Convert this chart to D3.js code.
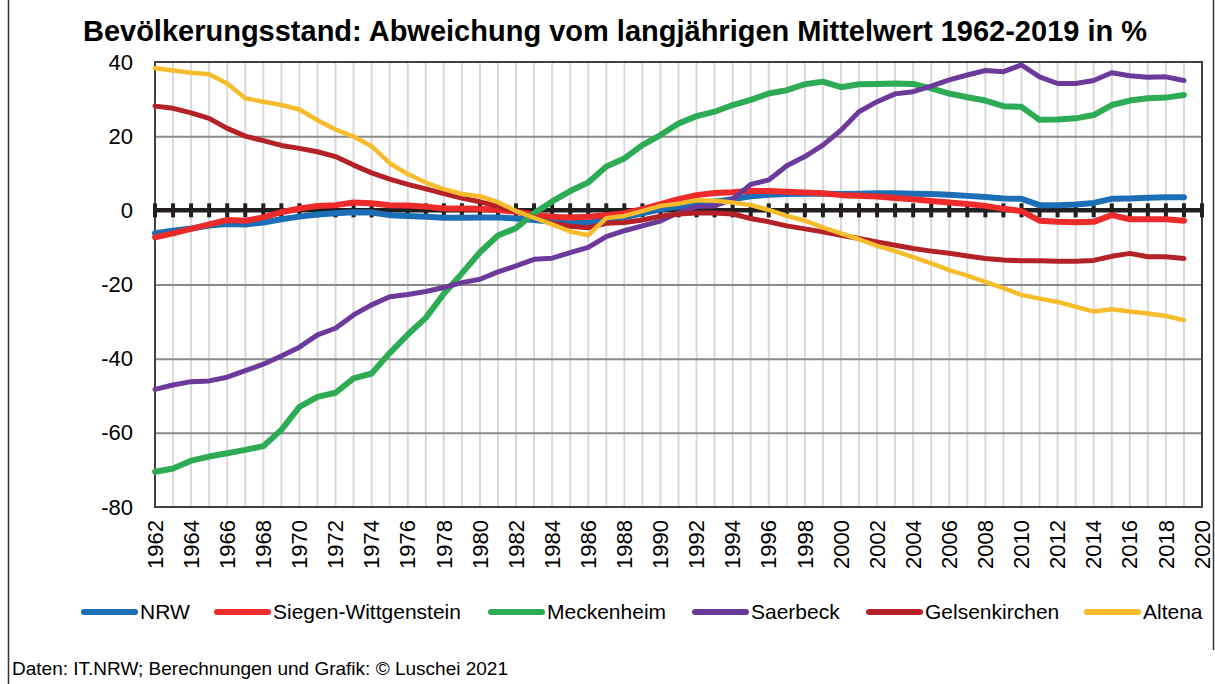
<!DOCTYPE html>
<html>
<head>
<meta charset="utf-8">
<script src="https://cdn.jsdelivr.net/npm/d3@7"></script>
<style>
  body { margin: 0; background: #fff; }
  text { font-family: "Liberation Sans", Arial, sans-serif; fill: #000; }
</style>
</head>
<body>
<div id="chart"></div>
<script>
// Bevölkerungsstand – Abweichung vom langjährigen Mittelwert

const years = d3.range(1962, 2020);
const yTicks = [-80, -60, -40, -20, 0, 20, 40];
const xLabelYears = d3.range(1962, 2021, 2);

const nrw = [-6.2, -5.5, -4.9, -4.1, -3.7, -3.8, -3.3, -2.4, -1.7, -1.1,
  -0.8, -0.5, -0.6, -1.3, -1.5, -1.7, -2.0, -2.0, -1.9, -1.9,
  -2.2, -2.6, -3.1, -3.5, -3.3, -2.6, -1.9, -0.8, 0.3, 1.0,
  1.7, 2.3, 3.0, 3.8, 4.2, 4.4, 4.5, 4.5, 4.4, 4.5,
  4.6, 4.6, 4.5, 4.4, 4.2, 3.9, 3.6, 3.2, 3.1, 1.4,
  1.4, 1.6, 2.0, 3.1, 3.2, 3.4, 3.5, 3.5];

const siegen = [-7.3, -6.2, -5.0, -3.8, -2.6, -2.8, -1.9, -0.5, 0.5, 1.2,
  1.4, 2.1, 1.9, 1.4, 1.3, 1.0, 0.5, 0.5, 0.4, 0.1,
  -0.4, -1.1, -1.7, -1.9, -1.7, -1.3, -0.8, 0.3, 1.7, 3.0,
  4.1, 4.7, 4.9, 5.3, 5.2, 5.0, 4.8, 4.6, 4.1, 3.9,
  3.7, 3.3, 3.0, 2.5, 2.1, 1.7, 1.2, 0.4, -0.2, -2.8,
  -3.1, -3.2, -3.1, -1.3, -2.4, -2.4, -2.4, -2.8];

const meckenheim = [-70.5, -69.6, -67.5, -66.4, -65.5, -64.6, -63.6, -59.2, -53.0, -50.3,
  -49.2, -45.3, -44.0, -38.5, -33.5, -29.0, -22.5, -17.0, -11.3, -6.8,
  -4.8, -0.8, 2.4, 5.2, 7.5, 11.8, 14.0, 17.6, 20.3, 23.4,
  25.4, 26.6, 28.4, 29.8, 31.5, 32.4, 34.0, 34.7, 33.2, 34.0,
  34.1, 34.2, 34.1, 32.9, 31.5, 30.5, 29.6, 28.1, 27.9, 24.4,
  24.5, 24.8, 25.7, 28.4, 29.6, 30.2, 30.4, 31.1];

const saerbeck = [-48.3, -47.1, -46.2, -46.0, -45.0, -43.2, -41.5, -39.3, -36.9, -33.6,
  -31.8, -28.2, -25.5, -23.3, -22.7, -21.9, -20.8, -19.5, -18.6, -16.6,
  -15.0, -13.2, -12.9, -11.4, -10.0, -7.1, -5.5, -4.2, -2.9, -0.6,
  1.0, 1.2, 3.0, 7.0, 8.2, 12.0, 14.5, 17.6, 21.6, 26.6,
  29.3, 31.4, 32.0, 33.5, 35.2, 36.5, 37.7, 37.4, 39.2, 36.0,
  34.2, 34.2, 35.0, 37.1, 36.3, 35.9, 36.0, 35.0];

const gelsenkirchen = [28.1, 27.5, 26.3, 24.8, 22.1, 20.0, 18.8, 17.5, 16.7, 15.8,
  14.5, 12.2, 10.1, 8.4, 7.0, 5.8, 4.5, 3.3, 2.3, 1.1,
  -0.3, -1.9, -3.5, -4.3, -4.7, -3.5, -3.3, -2.6, -1.6, -1.0,
  -0.7, -0.7, -1.0, -2.2, -3.1, -4.2, -5.0, -5.8, -6.7, -7.6,
  -8.5, -9.4, -10.3, -11.0, -11.6, -12.3, -13.0, -13.4, -13.6, -13.6,
  -13.7, -13.7, -13.5, -12.4, -11.6, -12.5, -12.5, -13.0];

const altena = [38.3, 37.7, 37.1, 36.7, 34.2, 30.2, 29.3, 28.4, 27.2, 24.3,
  21.8, 19.9, 17.3, 12.7, 9.8, 7.5, 5.7, 4.4, 3.8, 2.2,
  -0.2, -2.0, -3.8, -5.7, -6.7, -2.1, -1.5, -0.2, 1.2, 1.8,
  2.7, 2.6, 2.1, 1.4, 0.1, -1.5, -2.8, -4.6, -6.2, -7.8,
  -9.6, -11.0, -12.6, -14.3, -16.1, -17.6, -19.3, -21.0, -22.8, -23.8,
  -24.7, -26.0, -27.3, -26.7, -27.3, -27.8, -28.5, -29.6];

const seriesNames = ["NRW", "Siegen-Wittgenstein", "Meckenheim", "Saerbeck", "Gelsenkirchen", "Altena"];
const seriesValues = [nrw, siegen, meckenheim, saerbeck, gelsenkirchen, altena];

// styling, kept apart from the data
const seriesColor = d3.scaleOrdinal()
  .domain(seriesNames)
  .range(["#1c6fb6", "#ee2b2b", "#2eac55", "#6c3a9b", "#b42126", "#f6bc2c"]);
const seriesWidth = d3.scaleOrdinal()
  .domain(seriesNames)
  .range([6, 6, 6, 5, 5, 4.5]);

const WIDTH = 1215, HEIGHT = 684;
const M = { left: 155, right: 13, top: 62, bottom: 177 };

const svg = d3.select("#chart").append("svg")
  .attr("width", WIDTH).attr("height", HEIGHT);

// outer frame
svg.append("line").attr("x1", 8.5).attr("x2", 8.5).attr("y1", 0).attr("y2", HEIGHT)
  .attr("stroke", "#333").attr("stroke-width", 1.5);
svg.append("line").attr("x1", 1213.5).attr("x2", 1213.5).attr("y1", 0).attr("y2", 650)
  .attr("stroke", "#333").attr("stroke-width", 1.5);

const x = d3.scaleLinear().domain([1962, 2020]).range([M.left, WIDTH - M.right]);
const y = d3.scaleLinear().domain([-80, 40]).range([HEIGHT - M.bottom, M.top]);

// title
svg.append("text")
  .attr("x", 615).attr("y", 41)
  .attr("text-anchor", "middle")
  .style("font-size", "29px").style("font-weight", "bold")
  .text("Bevölkerungsstand: Abweichung vom langjährigen Mittelwert 1962-2019 in %");

// vertical gridlines every year
svg.append("g").attr("class", "grid-x")
  .selectAll("line").data(d3.range(1963, 2020)).join("line")
  .attr("x1", d => x(d)).attr("x2", d => x(d))
  .attr("y1", y(40)).attr("y2", y(-80))
  .attr("stroke", "#d9d9d9").attr("stroke-width", 2);

// horizontal gridlines
svg.append("g").attr("class", "grid-y")
  .call(d3.axisLeft(y).tickValues([-60, -40, -20, 20]).tickSize(-(x(2020) - x(1962))).tickFormat(""))
  .attr("transform", `translate(${x(1962)},0)`)
  .call(g => g.select(".domain").remove())
  .selectAll("line").attr("stroke", "#8a8a8a").attr("stroke-width", 2);

// plot border
svg.append("rect")
  .attr("x", x(1962)).attr("y", y(40))
  .attr("width", x(2020) - x(1962)).attr("height", y(-80) - y(40))
  .attr("fill", "none").attr("stroke", "#404040").attr("stroke-width", 2);

// y axis labels (plain hyphen as in the original)
const gY = svg.append("g").attr("class", "y-axis")
  .attr("transform", `translate(${x(1962)},0)`)
  .call(d3.axisLeft(y).tickValues(yTicks).tickSize(0).tickPadding(22).tickFormat(d => String(d)));
gY.select(".domain").remove();
gY.selectAll("text")
  .style("font-family", '"Liberation Sans", Arial, sans-serif')
  .style("font-size", "22px").attr("fill", "#000");

// zero axis with year ticks
const zero = svg.append("g").attr("class", "zero-axis");
zero.append("line")
  .attr("x1", x(1962)).attr("x2", x(2020))
  .attr("y1", y(0)).attr("y2", y(0))
  .attr("stroke", "#231f20").attr("stroke-width", 4.5);
zero.selectAll("line.tick").data(d3.range(1962, 2021)).join("line")
  .attr("class", "tick")
  .attr("x1", d => x(d)).attr("x2", d => x(d))
  .attr("y1", y(0) - 7).attr("y2", y(0) + 7)
  .attr("stroke", "#231f20").attr("stroke-width", 4);

// x labels, rotated
svg.append("g").attr("class", "x-axis")
  .selectAll("text").data(xLabelYears).join("text")
  .attr("transform", d => `translate(${x(d)},${y(-80) + 13}) rotate(-90)`)
  .attr("text-anchor", "end")
  .attr("dy", "0.35em")
  .style("font-size", "22px")
  .text(d => d);

// series lines
const line = d3.line()
  .x((d, i) => x(years[i]))
  .y(d => y(d));

svg.append("g").attr("class", "plot")
  .selectAll("path").data(seriesNames).join("path")
  .attr("d", (name, i) => line(seriesValues[i]))
  .attr("fill", "none")
  .attr("stroke", d => seriesColor(d))
  .attr("stroke-width", d => seriesWidth(d))
  .attr("stroke-linejoin", "round")
  .attr("stroke-linecap", "round");

// legend
const legendX = [81, 214, 488, 692, 866, 1084];
const legend = svg.append("g").attr("class", "legend");
const items = legend.selectAll("g.item").data(seriesNames).join("g")
  .attr("class", "item")
  .attr("transform", (d, i) => `translate(${legendX[i]},612)`);
items.append("line")
  .attr("x1", 3).attr("x2", 54).attr("y1", 0).attr("y2", 0)
  .attr("stroke", d => seriesColor(d))
  .attr("stroke-width", 6).attr("stroke-linecap", "round");
items.append("text")
  .attr("x", 59).attr("dy", "0.35em")
  .style("font-size", "21px")
  .text(d => d);

// footer
svg.append("text")
  .attr("x", 12).attr("y", 675)
  .style("font-size", "19px")
  .text("Daten: IT.NRW; Berechnungen und Grafik: © Luschei 2021");
</script>
</body>
</html>
